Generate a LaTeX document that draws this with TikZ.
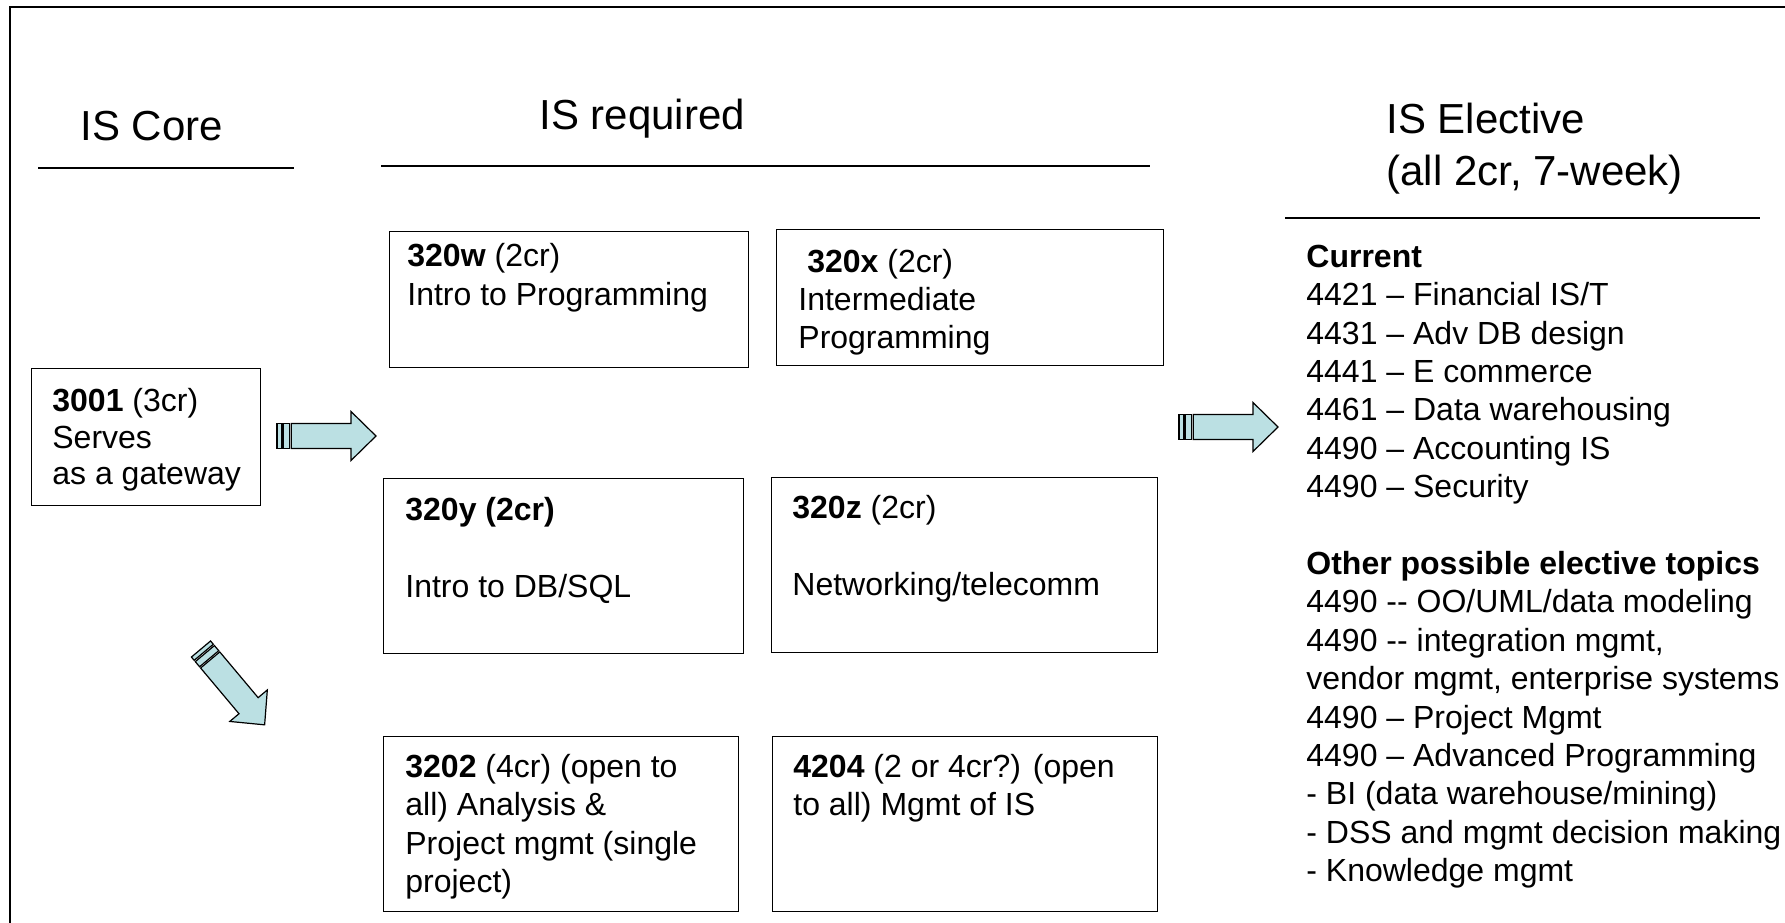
\documentclass[tikz,border=0pt]{standalone}
\usepackage{fontspec}
\setmainfont{Liberation Sans}
\definecolor{arrowfill}{RGB}{187,224,227}
\tikzset{
  box/.style={draw, line width=0.7pt, inner sep=0pt, anchor=north west},
  bodytext/.style={anchor=north west, inner sep=0pt, align=left},
  headtext/.style={anchor=north west, inner sep=0pt, align=left, font=\fontsize{21pt}{26pt}\selectfont},
  headrule/.style={line width=0.8pt},
  arrowpart/.style={draw, fill=arrowfill, line width=0.6pt, line join=miter},
  stripedarrow/.pic={
    \draw[arrowpart] (0,-12.5) rectangle (4.3,12.5);
    \draw[arrowpart] (6,-12.5) rectangle (12.7,12.5);
    \draw[arrowpart] (14.3,-12.5) -- (74,-12.5) -- (74,-24.5) -- (99,0) -- (74,24.5) -- (74,12.5) -- (14.3,12.5) -- cycle;
  }
}
\begin{document}
\begin{tikzpicture}[x=0.5pt,y=-0.5pt]
\useasboundingbox (0,0) rectangle (1785,922);
\clip (0,0) rectangle (1785,922);
% outer frame
\coordinate (fbl) at (10,940);
\coordinate (ftl) at (10,6.5);
\coordinate (ftr) at (1800,6.5);
\draw[line width=1pt] (fbl) -- (ftl) -- (ftr);

% headers
\node[headtext] (hcore) at (80,103.6) {\strut IS Core};
\node[headtext] (hreq) at (539,92.6) {\strut IS required};
\node[headtext] (helec) at (1386,96.6) {\strut IS Elective\\(all 2cr, 7-week)};
\coordinate (lc1) at (38,168); \coordinate (lc2) at (294,168);
\coordinate (lr1) at (381,166); \coordinate (lr2) at (1150,166);
\coordinate (le1) at (1285,218); \coordinate (le2) at (1760,218);
\draw[headrule] (lc1) -- (lc2);
\draw[headrule] (lr1) -- (lr2);
\draw[headrule] (le1) -- (le2);

% boxes
\node[box, minimum width=114.5pt, minimum height=68.5pt] (b3001) at (31,368) {};
\node[box, minimum width=179.5pt, minimum height=68pt] (b320w) at (389,231) {};
\node[box, minimum width=193.5pt, minimum height=68pt] (b320x) at (776,229) {};
\node[box, minimum width=180pt, minimum height=87.5pt] (b320y) at (383,478) {};
\node[box, minimum width=193pt, minimum height=87.5pt] (b320z) at (771,477) {};
\node[box, minimum width=177.5pt, minimum height=87.5pt] (b3202) at (383,736) {};
\node[box, minimum width=192.5pt, minimum height=87.5pt] (b4204) at (772,736) {};

% box texts
\node[bodytext, font=\fontsize{16pt}{18.3pt}\selectfont] (t3001) at (52,385.4)
  {\strut\textbf{3001} (3cr)\\Serves\\as a gateway};
\node[bodytext, font=\fontsize{16pt}{19.5pt}\selectfont] (t320w) at (407,238.7)
  {\strut\textbf{320w} (2cr)\\Intro to Programming};
\node[bodytext, font=\fontsize{16pt}{19pt}\selectfont] (t320x) at (798,245.4)
  {\strut\ \textbf{320x} (2cr)\\Intermediate\\Programming};
\node[bodytext, font=\fontsize{16pt}{19.25pt}\selectfont] (t320y) at (405,493)
  {\strut\textbf{320y (2cr)}\\\strut\\Intro to DB/SQL};
\node[bodytext, font=\fontsize{16pt}{19.25pt}\selectfont] (t320z) at (792,491)
  {\strut\textbf{320z} (2cr)\\\strut\\Networking/telecomm};
\node[bodytext, font=\fontsize{16pt}{19.17pt}\selectfont] (t3202) at (405,750.2)
  {\strut\textbf{3202} (4cr) (open to\\all) Analysis \&\\Project mgmt (single\\project)};
\node[bodytext, font=\fontsize{16pt}{19.17pt}\selectfont] (t4204) at (793,750.2)
  {\strut\textbf{4204} (2 or 4cr?) (open\\to all) Mgmt of IS};

% elective list
\node[bodytext, font=\fontsize{16pt}{19.2pt}\selectfont] (tlist) at (1306,240.1)
  {\strut\textbf{Current}\\
   4421 – Financial IS/T\\
   4431 – Adv DB design\\
   4441 – E commerce\\
   4461 – Data warehousing\\
   4490 – Accounting IS\\
   4490 – Security\\
   \strut\\
   \textbf{Other possible elective topics}\\
   4490 -{}- OO/UML/data modeling\\
   4490 -{}- integration mgmt,\\
   vendor mgmt, enterprise systems\\
   4490 – Project Mgmt\\
   4490 – Advanced Programming\\
   - BI (data warehouse/mining)\\
   - DSS and mgmt decision making\\
   - Knowledge mgmt};

% block arrows
\pic (arrowA) at (277,436) {stripedarrow};
\pic (arrowB) at (1179,427) {stripedarrow};
\pic[rotate=-50] (arrowC) at (201,649) {stripedarrow};
\end{tikzpicture}
\end{document}
